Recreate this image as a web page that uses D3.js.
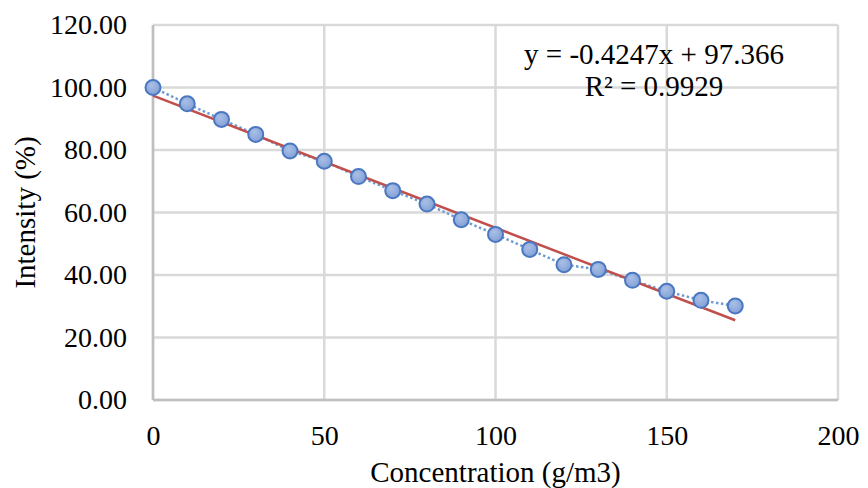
<!DOCTYPE html>
<head>
  <meta charset="utf-8">
  <script src="https://d3js.org/d3.v7.min.js"></script>
  <style>
    body { margin: 0; background: #fff; }
    svg { font-family: "Liberation Serif", "Times New Roman", serif; }
    .grid line { stroke: #d9d9d9; stroke-width: 2.5; }
    .axis text { font-size: 28px; fill: #000; }
  </style>
</head>
<body>
<div id="chart"></div>
<script>

var concentration = [0, 10, 20, 30, 40, 50, 60, 70, 80, 90, 100, 110, 120, 130, 140, 150, 160, 170];
var intensity = [100, 94.8, 89.8, 85.0, 79.7, 76.4, 71.5, 67.0, 62.7, 57.7, 53.0, 48.2, 43.3, 41.8, 38.3, 34.8, 31.9, 30.1];
var xTicks = [0, 50, 100, 150, 200];
var yTicks = [0, 20, 40, 60, 80, 100, 120];
var equationText = "y = -0.4247x + 97.366";
var r2Text = "R\u00B2 = 0.9929";

var width = 868, height = 488;
var margin = {top: 25, right: 30, bottom: 88, left: 153};

var svg = d3.select("#chart").append("svg")
    .attr("width", width)
    .attr("height", height);

var x = d3.scaleLinear().domain([0, 200]).range([margin.left, width - margin.right]);
var y = d3.scaleLinear().domain([0, 120]).range([height - margin.bottom, margin.top]);

// gridlines
var grid = svg.append("g").attr("class", "grid");
grid.selectAll(".gx").data(xTicks).enter().append("line")
    .attr("x1", function(d) { return x(d); })
    .attr("x2", function(d) { return x(d); })
    .attr("y1", y(0)).attr("y2", y(120));
grid.selectAll(".gy").data(yTicks).enter().append("line")
    .attr("x1", x(0)).attr("x2", x(200))
    .attr("y1", function(d) { return y(d); })
    .attr("y2", function(d) { return y(d); });

// axes lines a touch darker
svg.append("line").attr("x1", x(0)).attr("x2", x(0)).attr("y1", y(0)).attr("y2", y(120))
    .attr("stroke", "#bfbfbf").attr("stroke-width", 2.5);
svg.append("line").attr("x1", x(0)).attr("x2", x(200)).attr("y1", y(0)).attr("y2", y(0))
    .attr("stroke", "#bfbfbf").attr("stroke-width", 2.5);

// tick labels
var xAxis = d3.axisBottom(x).tickValues(xTicks).tickSize(0).tickPadding(25)
    .tickFormat(d3.format("d"));
svg.append("g").attr("class", "axis")
    .attr("transform", "translate(0," + y(0) + ")")
    .call(xAxis)
    .attr("font-family", null).attr("font-size", null)
    .call(function(g) { g.select(".domain").remove(); });

var yAxis = d3.axisLeft(y).tickValues(yTicks).tickSize(0).tickPadding(26)
    .tickFormat(d3.format(".2f"));
svg.append("g").attr("class", "axis")
    .attr("transform", "translate(" + x(0) + ",0)")
    .call(yAxis)
    .attr("font-family", null).attr("font-size", null)
    .call(function(g) { g.select(".domain").remove(); });

// axis titles
svg.append("text")
    .attr("x", (x(0) + x(200)) / 2)
    .attr("y", 482)
    .attr("text-anchor", "middle")
    .style("font-size", "29px")
    .text("Concentration (g/m3)");

svg.append("text")
    .attr("transform", "translate(35," + ((y(0) + y(120)) / 2) + ") rotate(-90)")
    .attr("text-anchor", "middle")
    .style("font-size", "29px")
    .text("Intensity (%)");

// linear regression for trendline
var n = concentration.length;
var mx = d3.mean(concentration), my = d3.mean(intensity);
var sxy = 0, sxx = 0;
for (var i = 0; i < n; i++) {
  sxy += (concentration[i] - mx) * (intensity[i] - my);
  sxx += (concentration[i] - mx) * (concentration[i] - mx);
}
var slope = sxy / sxx, intercept = my - slope * mx;

var data = concentration.map(function(c, i) { return {c: c, v: intensity[i]}; });

// dotted series line
svg.append("path")
    .datum(data)
    .attr("fill", "none")
    .attr("stroke", "#6f9bd3")
    .attr("stroke-width", 2.5)
    .attr("stroke-dasharray", "2.5,2.5")
    .attr("d", d3.line().x(function(d) { return x(d.c); }).y(function(d) { return y(d.v); }));

// trendline
var xEnds = d3.extent(concentration);
svg.append("line")
    .attr("x1", x(xEnds[0])).attr("y1", y(intercept + slope * xEnds[0]))
    .attr("x2", x(xEnds[1])).attr("y2", y(intercept + slope * xEnds[1]))
    .attr("stroke", "#c0504d")
    .attr("stroke-width", 2.5);

// markers
var defs = svg.append("defs");
var grad = defs.append("radialGradient").attr("id", "mk").attr("cx", "40%").attr("cy", "35%").attr("r", "70%");
grad.append("stop").attr("offset", "0%").attr("stop-color", "#a9bfe6");
grad.append("stop").attr("offset", "100%").attr("stop-color", "#819fd6");

svg.selectAll(".pt").data(data).enter().append("circle")
    .attr("class", "pt")
    .attr("cx", function(d) { return x(d.c); })
    .attr("cy", function(d) { return y(d.v); })
    .attr("r", 7.5)
    .attr("fill", "url(#mk)")
    .attr("stroke", "#4a78c0")
    .attr("stroke-width", 2);

// equation label
svg.append("text")
    .attr("x", 654).attr("y", 64)
    .attr("text-anchor", "middle")
    .style("font-size", "29px")
    .text(equationText);
svg.append("text")
    .attr("x", 654).attr("y", 96)
    .attr("text-anchor", "middle")
    .style("font-size", "29px")
    .text(r2Text);

</script>
</body>
